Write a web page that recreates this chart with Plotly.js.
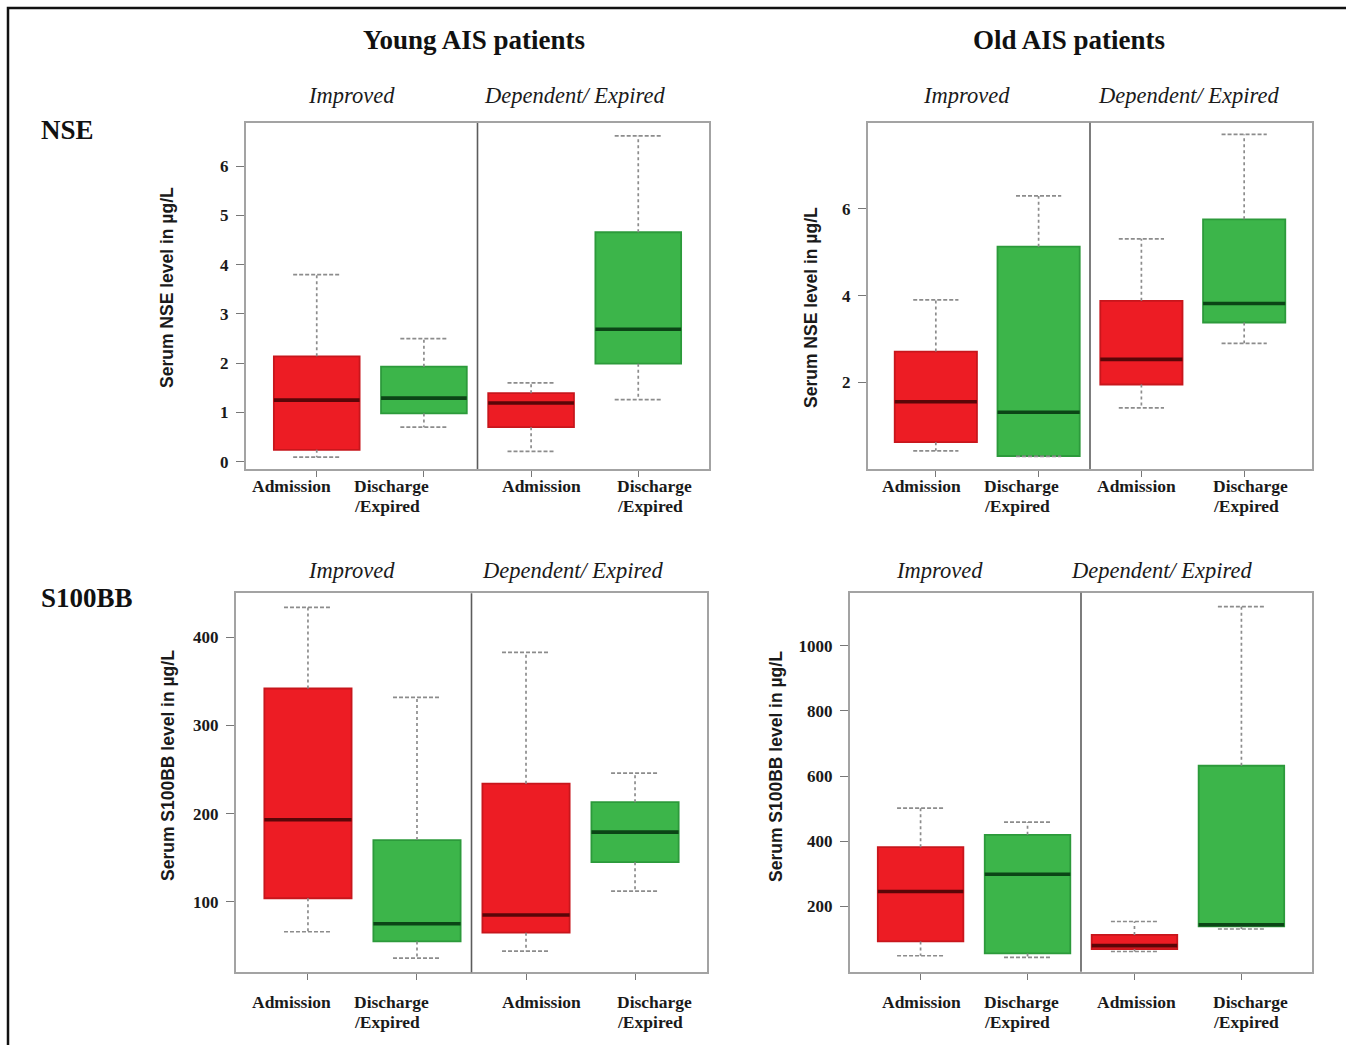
<!DOCTYPE html>
<html>
<head>
<meta charset="utf-8">
<script src="https://cdn.plot.ly/plotly-3.0.1.min.js"></script>
<style>html,body{margin:0;padding:0;background:#fff;}#chart{width:1346px;height:1045px;}</style>
</head>
<body>
<div id="chart"></div>
<script>
// ---- Data ----
const groupLabelsLine1 = ['Admission', 'Discharge', 'Admission', 'Discharge'];
const groupLabelsLine2 = ['', '/Expired', '', '/Expired'];
const outcomeLabels = ['Improved', 'Dependent/ Expired'];
const cohortTitles = ['Young AIS patients', 'Old AIS patients'];
const markerNames = ['NSE', 'S100BB'];
const yTitles = ['Serum NSE level in µg/L', 'Serum NSE level in µg/L', 'Serum S100BB level in µg/L', 'Serum S100BB level in µg/L'];
const boxColorKeys = ['red', 'green', 'red', 'green'];

// Young AIS – NSE
const youngNSE_lower  = [0.09, 0.70, 0.21, 1.26];
const youngNSE_q1     = [0.24, 0.98, 0.70, 1.99];
const youngNSE_median = [1.25, 1.29, 1.19, 2.69];
const youngNSE_q3     = [2.14, 1.93, 1.39, 4.66];
const youngNSE_upper  = [3.80, 2.50, 1.60, 6.62];

// Old AIS – NSE
const oldNSE_lower  = [0.42, 0.29, 1.41, 2.90];
const oldNSE_q1     = [0.62, 0.30, 1.95, 3.38];
const oldNSE_median = [1.55, 1.31, 2.53, 3.82];
const oldNSE_q3     = [2.71, 5.13, 3.88, 5.76];
const oldNSE_upper  = [3.90, 6.30, 5.31, 7.72];

// Young AIS – S100BB
const youngS100_lower  = [66, 36, 44, 112];
const youngS100_q1     = [104, 55, 65, 145];
const youngS100_median = [193, 75, 85, 179];
const youngS100_q3     = [342, 170, 234, 213];
const youngS100_upper  = [434, 332, 383, 246];

// Old AIS – S100BB
const oldS100_lower  = [49, 44, 62, 131];
const oldS100_q1     = [93, 56, 69, 139];
const oldS100_median = [246, 299, 80, 144];
const oldS100_q3     = [382, 420, 113, 632];
const oldS100_upper  = [502, 459, 154, 1120];

const yTickVals = [[0,1,2,3,4,5,6], [2,4,6], [100,200,300,400], [200,400,600,800,1000]];
const yRanges = [[-0.15, 6.88], [0, 7.99], [20, 450], [0, 1163]];

// ---- Styling ----
const W = 1346, H = 1045;
const px = v => v / W;
const py = v => 1 - v / H;
const fills   = {red: '#ED1C24', green: '#3CB54A'};
const outline = {red: '#C8161C', green: '#2C9A3B'};
const medCol  = {red: '#5A0608', green: '#0B4516'};
const serif = 'Liberation Serif, Times New Roman, serif';
const sans = 'Liberation Sans, Arial, sans-serif';

const panels = [
  {lower: youngNSE_lower, q1: youngNSE_q1, median: youngNSE_median, q3: youngNSE_q3, upper: youngNSE_upper,
   xd: [246, 709], yd: [123, 469], ytx: 167, yty: 288},
  {lower: oldNSE_lower, q1: oldNSE_q1, median: oldNSE_median, q3: oldNSE_q3, upper: oldNSE_upper,
   xd: [868, 1312], yd: [122.7, 469], ytx: 811, yty: 308},
  {lower: youngS100_lower, q1: youngS100_q1, median: youngS100_median, q3: youngS100_q3, upper: youngS100_upper,
   xd: [236, 707], yd: [593.3, 972.3], ytx: 168, yty: 766},
  {lower: oldS100_lower, q1: oldS100_q1, median: oldS100_median, q3: oldS100_q3, upper: oldS100_upper,
   xd: [850, 1312], yd: [592.7, 971.7], ytx: 776, yty: 766}
];

const traces = [];
const shapes = [];
const annotations = [];
const layout = {
  width: W, height: H,
  margin: {l: 0, r: 0, t: 0, b: 0},
  paper_bgcolor: '#fff', plot_bgcolor: '#fff',
  showlegend: false,
  shapes: shapes, annotations: annotations
};

panels.forEach((p, k) => {
  const sfx = k === 0 ? '' : String(k + 1);
  const xa = 'x' + sfx, ya = 'y' + sfx;
  const n = p.median.length;
  for (let i = 0; i < n; i++) {
    const xc = i + 1;
    const c = boxColorKeys[i];
    // whiskers (dotted)
    traces.push({
      type: 'scatter', mode: 'lines', xaxis: xa, yaxis: ya, hoverinfo: 'skip',
      x: [xc, xc, null, xc, xc],
      y: [p.q3[i], p.upper[i], null, p.q1[i], p.lower[i]],
      line: {color: '#8c8c8c', width: 1.7, dash: 'dot'}
    });
    // staples
    traces.push({
      type: 'scatter', mode: 'lines', xaxis: xa, yaxis: ya, hoverinfo: 'skip',
      x: [xc - 0.22, xc + 0.22, null, xc - 0.22, xc + 0.22],
      y: [p.upper[i], p.upper[i], null, p.lower[i], p.lower[i]],
      line: {color: '#8c8c8c', width: 1.7, dash: '4px,2px'}
    });
    // box
    traces.push({
      type: 'box', xaxis: xa, yaxis: ya, hoverinfo: 'skip',
      x: [xc], q1: [p.q1[i]], median: [p.median[i]], q3: [p.q3[i]],
      lowerfence: [p.q1[i]], upperfence: [p.q3[i]],
      width: 0.8, whiskerwidth: 0,
      fillcolor: fills[c], line: {color: outline[c], width: 1.8},
      boxpoints: false
    });
    // median
    traces.push({
      type: 'scatter', mode: 'lines', xaxis: xa, yaxis: ya, hoverinfo: 'skip',
      x: [xc - 0.4, xc + 0.4], y: [p.median[i], p.median[i]],
      line: {color: medCol[c], width: 3.6}
    });
  }
  layout['xaxis' + sfx] = {
    domain: [px(p.xd[0]), px(p.xd[1])], anchor: ya,
    range: [0.34, 4.66], tickvals: [1, 2, 3, 4], showticklabels: false,
    ticks: 'outside', ticklen: 6, tickcolor: '#777', tickwidth: 1,
    showline: true, mirror: true, linecolor: '#a3a3a3', linewidth: 2,
    showgrid: false, zeroline: false, fixedrange: true
  };
  layout['yaxis' + sfx] = {
    domain: [py(p.yd[1]), py(p.yd[0])], anchor: xa,
    range: yRanges[k], tickvals: yTickVals[k],
    ticks: 'outside', ticklen: 8, tickcolor: '#777', tickwidth: 1,
    ticklabelstandoff: 4,
    tickfont: {family: serif, size: 17, color: '#1a1a1a', weight: 'bold'},
    showline: true, mirror: true, linecolor: '#a3a3a3', linewidth: 2,
    showgrid: false, zeroline: false, fixedrange: true
  };
  // divider between outcome groups
  shapes.push({type: 'line', xref: xa, yref: ya + ' domain', x0: 2.5, x1: 2.5, y0: 0, y1: 1,
    line: {color: '#5c5c5c', width: 1.6}});
  // y-axis title
  annotations.push({xref: 'paper', yref: 'paper', x: px(p.ytx), y: py(p.yty), text: yTitles[k],
    textangle: -90, showarrow: false, xanchor: 'center', yanchor: 'middle',
    font: {family: sans, size: 17.5, color: '#1a1a1a', weight: 'bold'}});
});

// x category labels (placed as in the figure, left edges)
const labelLeft = [[250, 352, 500, 615], [880, 982, 1095, 1211]];
const labelLineY = [[486, 506], [1002, 1022]];
for (let r = 0; r < 2; r++) {
  for (let c = 0; c < 2; c++) {
    groupLabelsLine1.forEach((g, i) => {
      const lines = [g, groupLabelsLine2[i]];
      lines.forEach((t, j) => {
        if (!t) return;
        annotations.push({xref: 'paper', yref: 'paper', x: px(labelLeft[c][i]), y: py(labelLineY[r][j]),
          text: t, showarrow: false, xanchor: 'left', yanchor: 'middle',
          font: {family: serif, size: 17.5, color: '#1a1a1a', weight: 'bold'}});
      });
    });
  }
}

// outcome labels
const outcomeX = [[[351, 574], [966, 1188]], [[351, 572], [939, 1161]]];
const outcomeY = [95, 570];
for (let r = 0; r < 2; r++) {
  for (let c = 0; c < 2; c++) {
    outcomeLabels.forEach((t, i) => {
      annotations.push({xref: 'paper', yref: 'paper', x: px(outcomeX[r][c][i]), y: py(outcomeY[r]),
        text: '<i>' + t + '</i>', showarrow: false, xanchor: 'center', yanchor: 'middle',
        font: {family: serif, size: 22.5, color: '#1a1a1a'}});
    });
  }
}

// cohort titles
[474, 1069].forEach((x, i) => {
  annotations.push({xref: 'paper', yref: 'paper', x: px(x), y: py(40), text: cohortTitles[i],
    showarrow: false, xanchor: 'center', yanchor: 'middle',
    font: {family: serif, size: 27, color: '#111', weight: 'bold'}});
});
// marker names
[130, 598].forEach((y, i) => {
  annotations.push({xref: 'paper', yref: 'paper', x: px(39), y: py(y), text: markerNames[i],
    showarrow: false, xanchor: 'left', yanchor: 'middle',
    font: {family: serif, size: 27, color: '#111', weight: 'bold'}});
});

// outer frame of the figure
shapes.push({type: 'rect', xref: 'paper', yref: 'paper', x0: px(8), x1: 1.05, y0: -0.05, y1: py(8),
  line: {color: '#111', width: 2.5}, fillcolor: 'rgba(0,0,0,0)', layer: 'below'});

Plotly.newPlot('chart', traces, layout, {displayModeBar: false, staticPlot: true});
</script>
</body>
</html>
